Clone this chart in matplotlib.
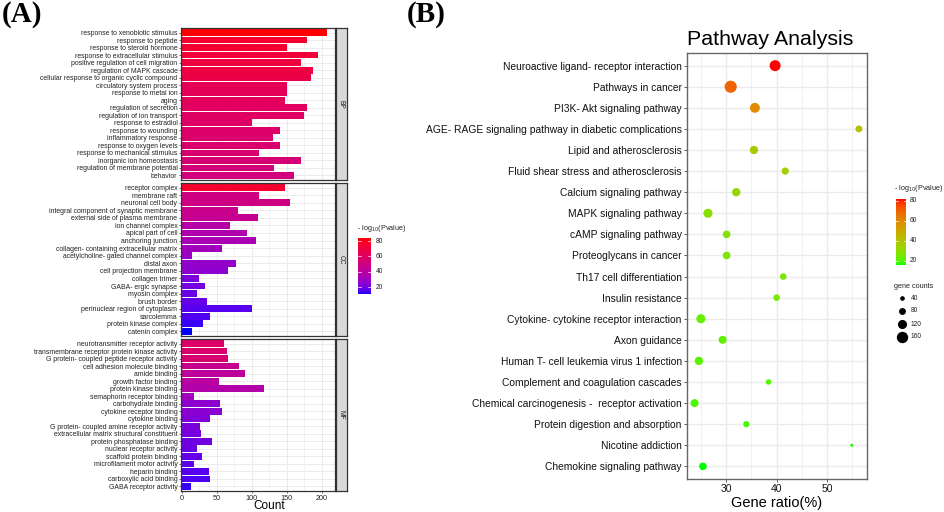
import numpy as np
import matplotlib
matplotlib.use("Agg")
import matplotlib.pyplot as plt
from matplotlib.colors import ListedColormap, Normalize

plt.rcParams['font.family'] = ['Liberation Sans', 'DejaVu Sans']

# ---------------- data ----------------
bp_terms = ["response to xenobiotic stimulus", "response to peptide", "response to steroid hormone",
            "response to extracellular stimulus", "positive regulation of cell migration",
            "regulation of MAPK cascade", "cellular response to organic cyclic compound",
            "circulatory system process", "response to metal ion", "aging", "regulation of secretion",
            "regulation of ion transport", "response to estradiol", "response to wounding",
            "inflammatory response", "response to oxygen levels", "response to mechanical stimulus",
            "inorganic ion homeostasis", "regulation of membrane potential", "behavior"]
bp_count = [207, 179, 151, 194, 170, 187, 185, 150, 150, 148, 179, 174, 100, 140, 130, 140, 111, 170, 132, 161]
bp_logp = [84, 76, 75, 73, 71, 70, 68, 64, 63, 62, 61, 60, 59, 58, 57, 56, 55, 54, 53, 52]

cc_terms = ["receptor complex", "membrane raft", "neuronal cell body", "integral component of synaptic membrane",
            "external side of plasma membrane", "ion channel complex", "apical part of cell", "anchoring junction",
            "collagen- containing extracellular matrix", "acetylcholine- gated channel complex", "distal axon",
            "cell projection membrane", "collagen trimer", "GABA- ergic synapse", "myosin complex", "brush border",
            "perinuclear region of cytoplasm", "sarcolemma", "protein kinase complex", "catenin complex"]
cc_count = [148, 110, 154, 81, 109, 69, 94, 106, 57, 15, 78, 66, 25, 33, 22, 36, 100, 40, 31, 15]
cc_logp = [76, 50, 49, 47, 45, 38, 36, 34, 31, 29, 27, 26, 22, 21, 19, 18, 16, 15, 13, 11]

mf_terms = ["neurotransmitter receptor activity", "transmembrane receptor protein kinase activity",
            "G protein- coupled peptide receptor activity", "cell adhesion molecule binding", "amide binding",
            "growth factor binding", "protein kinase binding", "semaphorin receptor binding",
            "carbohydrate binding", "cytokine receptor binding", "cytokine binding",
            "G protein- coupled amine receptor activity", "extracellular matrix structural constituent",
            "protein phosphatase binding", "nuclear receptor activity", "scaffold protein binding",
            "microfilament motor activity", "heparin binding", "carboxylic acid binding", "GABA receptor activity"]
mf_count = [61, 65, 66, 82, 90, 53, 117, 18, 55, 57, 40, 26, 27, 44, 22, 29, 17, 39, 40, 14]
mf_logp = [58, 56, 55, 46, 42, 40, 37, 31, 26, 25, 23, 22, 21, 20, 19, 18, 17, 16, 15, 13]

facet_names = ["BP", "CC", "MF"]

kegg_terms = ["Neuroactive ligand- receptor interaction", "Pathways in cancer", "PI3K- Akt signaling pathway",
              "AGE- RAGE signaling pathway in diabetic complications", "Lipid and atherosclerosis",
              "Fluid shear stress and atherosclerosis", "Calcium signaling pathway", "MAPK signaling pathway",
              "cAMP signaling pathway", "Proteoglycans in cancer", "Th17 cell differentiation",
              "Insulin resistance", "Cytokine- cytokine receptor interaction", "Axon guidance",
              "Human T- cell leukemia virus 1 infection", "Complement and coagulation cascades",
              "Chemical carcinogenesis -  receptor activation", "Protein digestion and absorption",
              "Nicotine addiction", "Chemokine signaling pathway"]
kegg_ratio = [39.7, 30.9, 35.7, 56.3, 35.5, 41.7, 32.0, 26.4, 30.1, 30.1, 41.3, 40.0, 25.0, 29.3, 24.6,
              38.4, 23.75, 34.0, 54.9, 25.4]
kegg_count = [154, 174, 134, 80, 106, 86, 106, 120, 94, 94, 74, 74, 120, 100, 106, 54, 100, 66, 14, 94]
kegg_logp = [82, 70, 60, 42, 38, 36, 33, 29, 28, 27, 26, 25, 23, 22, 21, 20, 19.5, 18.5, 17, 16]

size_breaks = [40, 80, 120, 160]
xticks_a = [0, 50, 100, 150, 200]
xticks_b = [30, 40, 50]
cbar_ticks = [20, 40, 60, 80]

# ---------------- Lab gradient (ggplot-like) ----------------
def srgb_to_lab(rgb):
    rgb = np.asarray(rgb, float)
    lin = np.where(rgb <= 0.04045, rgb / 12.92, ((rgb + 0.055) / 1.055) ** 2.4)
    M = np.array([[0.4124564, 0.3575761, 0.1804375],
                  [0.2126729, 0.7151522, 0.0721750],
                  [0.0193339, 0.1191920, 0.9503041]])
    xyz = M @ lin
    wp = np.array([0.95047, 1.0, 1.08883])
    t = xyz / wp
    f = np.where(t > (6 / 29) ** 3, np.cbrt(t), t / (3 * (6 / 29) ** 2) + 4 / 29)
    return np.array([116 * f[1] - 16, 500 * (f[0] - f[1]), 200 * (f[1] - f[2])])

def lab_to_srgb(lab):
    L, a, b = lab
    fy = (L + 16) / 116
    fx = fy + a / 500
    fz = fy - b / 200
    f = np.array([fx, fy, fz])
    t = np.where(f > 6 / 29, f ** 3, 3 * (6 / 29) ** 2 * (f - 4 / 29))
    xyz = t * np.array([0.95047, 1.0, 1.08883])
    Minv = np.array([[3.2404542, -1.5371385, -0.4985314],
                     [-0.9692660, 1.8760108, 0.0415560],
                     [0.0556434, -0.2040259, 1.0572252]])
    lin = np.clip(Minv @ xyz, 0, 1)
    rgb = np.where(lin <= 0.0031308, 12.92 * lin, 1.055 * lin ** (1 / 2.4) - 0.055)
    return np.clip(rgb, 0, 1)

def lab_cmap(c0, c1, n=256):
    l0, l1 = srgb_to_lab(c0), srgb_to_lab(c1)
    cols = [lab_to_srgb(l0 + (l1 - l0) * s) for s in np.linspace(0, 1, n)]
    return ListedColormap(cols)

cmap_a = lab_cmap([0, 0, 1], [1, 0, 0])
cmap_b = lab_cmap([0, 1, 0], [1, 0, 0])

all_logp_a = bp_logp + cc_logp + mf_logp
norm_a = Normalize(min(all_logp_a), max(all_logp_a))
norm_b = Normalize(min(kegg_logp), max(kegg_logp))

# ---------------- figure ----------------
W, H = 945, 512
fig = plt.figure(figsize=(W / 100, H / 100), dpi=100)

def rect(x0, y0, x1, y1):
    return [x0 / W, 1 - y1 / H, (x1 - x0) / W, (y1 - y0) / H]

grid_c = '#EBEBEB'
border_c = '#333333'
txt_c = '#222222'

# ---------------- Panel A ----------------
facets = [(bp_terms, bp_count, bp_logp), (cc_terms, cc_count, cc_logp), (mf_terms, mf_count, mf_logp)]
ybounds = [(28, 180), (183, 336), (339, 491)]
for i, ((terms, counts, logp), (yt, yb)) in enumerate(zip(facets, ybounds)):
    ax = fig.add_axes(rect(181, yt, 335, yb))
    n = len(terms)
    pos = np.arange(n)
    for g in [25, 75, 125, 175]:
        ax.axvline(g, color=grid_c, lw=0.4, zorder=0)
    for g in xticks_a:
        ax.axvline(g, color=grid_c, lw=0.7, zorder=0)
    for p in pos:
        ax.axhline(p, color=grid_c, lw=0.7, zorder=0)
    ax.barh(pos, counts, height=0.9, color=cmap_a(norm_a(np.array(logp))), zorder=2)
    ax.set_ylim(n - 0.4, -0.6)
    ax.set_xlim(-1, 219)
    ax.set_yticks(pos)
    ax.set_yticklabels(terms, fontsize=4.95, color=txt_c)
    ax.set_xticks(xticks_a)
    if i == 2:
        ax.set_xticklabels([str(t) for t in xticks_a], fontsize=5.2, color=txt_c)
    else:
        ax.set_xticklabels([])
    ax.tick_params(axis='both', length=1.6, width=0.5, color=border_c, pad=1)
    if i != 2:
        ax.tick_params(axis='x', length=0)
    for s in ax.spines.values():
        s.set_color(border_c)
        s.set_linewidth(0.9)
    # strip
    sax = fig.add_axes(rect(336, yt, 346.5, yb))
    sax.set_facecolor('#D9D9D9')
    sax.set_xticks([]); sax.set_yticks([])
    for s in sax.spines.values():
        s.set_color(border_c)
        s.set_linewidth(0.9)
    sax.text(0.5, 0.5, facet_names[i], rotation=-90, ha='center', va='center',
             fontsize=4.8, color=txt_c, transform=sax.transAxes)

fig.text(269 / W, 1 - 506 / H, "Count", ha='center', va='center', fontsize=8.5, color='black')

# Panel A colourbar
fig.text(357 / W, 1 - 228 / H, r"- log$_{10}$(Pvalue)", ha='left', va='center', fontsize=5.2, color=txt_c)
cax = fig.add_axes(rect(358, 238, 371, 294))
grad = np.linspace(norm_a.vmin, norm_a.vmax, 256).reshape(-1, 1)
cax.imshow(grad, aspect='auto', cmap=cmap_a, norm=norm_a, origin='lower',
           extent=[0, 1, norm_a.vmin, norm_a.vmax])
cax.set_xlim(0, 1); cax.set_ylim(norm_a.vmin, norm_a.vmax)
cax.set_xticks([]); cax.set_yticks([])
for s in cax.spines.values():
    s.set_visible(False)
for t in cbar_ticks:
    cax.plot([0, 0.2], [t, t], color='white', lw=0.5)
    cax.plot([0.8, 1], [t, t], color='white', lw=0.5)
    cax.text(1.35, t, str(t), ha='left', va='center', fontsize=4.8, color=txt_c)

# ---------------- Panel B ----------------
bx = fig.add_axes(rect(687, 53, 867, 479))
nk = len(kegg_terms)
kpos = np.arange(nk)
for g in [25, 35, 45, 55]:
    bx.axvline(g, color=grid_c, lw=0.5, zorder=0)
for g in xticks_b:
    bx.axvline(g, color=grid_c, lw=1.0, zorder=0)
for p in kpos:
    bx.axhline(p, color=grid_c, lw=1.0, zorder=0)

def size_pt2(v):
    d_px = 2.4 + 0.056 * np.asarray(v, float)
    return (d_px * 72 / 100) ** 2

bx.scatter(kegg_ratio, kpos, s=size_pt2(kegg_count), c=kegg_logp, cmap=cmap_b, norm=norm_b,
           linewidths=0, zorder=3)
bx.set_ylim(nk - 0.4, -0.6)
bx.set_xlim(22.25, 57.9)
bx.set_yticks(kpos)
bx.set_yticklabels(kegg_terms, fontsize=7.35, color='#111111')
bx.set_xticks(xticks_b)
bx.set_xticklabels([str(t) for t in xticks_b], fontsize=7.5, color='#111111')
bx.tick_params(axis='both', length=2.2, width=0.6, color='#444444', pad=1.5)
for s in bx.spines.values():
    s.set_color('#666666')
    s.set_linewidth(1.0)
bx.set_xlabel("Gene ratio(%)", fontsize=10.5, color='black', labelpad=1)
fig.text(687 / W, 1 - 45 / H, "Pathway Analysis", ha='left', va='baseline', fontsize=15.4, color='black')

# Panel B colourbar
fig.text(894 / W, 1 - 189 / H, r"- log$_{10}$(Pvalue)", ha='left', va='center', fontsize=5.2, color=txt_c)
cbx = fig.add_axes(rect(896, 199, 906, 265))
gradb = np.linspace(norm_b.vmin, norm_b.vmax, 256).reshape(-1, 1)
cbx.imshow(gradb, aspect='auto', cmap=cmap_b, norm=norm_b, origin='lower',
           extent=[0, 1, norm_b.vmin, norm_b.vmax])
cbx.set_xlim(0, 1); cbx.set_ylim(norm_b.vmin, norm_b.vmax)
cbx.set_xticks([]); cbx.set_yticks([])
for s in cbx.spines.values():
    s.set_visible(False)
for t in cbar_ticks:
    cbx.plot([0, 0.2], [t, t], color='white', lw=0.5)
    cbx.plot([0.8, 1], [t, t], color='white', lw=0.5)
    cbx.text(1.4, t, str(t), ha='left', va='center', fontsize=4.8, color=txt_c)

# size legend
fig.text(894 / W, 1 - 286 / H, "gene counts", ha='left', va='center', fontsize=5.2, color=txt_c)
lax = fig.add_axes(rect(890, 290, 940, 345))
lax.set_xlim(890, 940); lax.set_ylim(345, 290)
lax.axis('off')
leg_y = [298, 311, 324, 337]
for v, yy in zip(size_breaks, leg_y):
    lax.scatter([902], [yy], s=size_pt2(v), color='black', linewidths=0)
    lax.text(911, yy, str(v), ha='left', va='center', fontsize=4.8, color=txt_c)

# panel letters
fig.text(22 / W, 1 - 15 / H, "(A)", ha='center', va='center', fontsize=21, fontweight='bold',
         family=['Liberation Serif', 'DejaVu Serif'])
fig.text(426 / W, 1 - 15 / H, "(B)", ha='center', va='center', fontsize=21, fontweight='bold',
         family=['Liberation Serif', 'DejaVu Serif'])

fig.savefig("out.png", dpi=100)
